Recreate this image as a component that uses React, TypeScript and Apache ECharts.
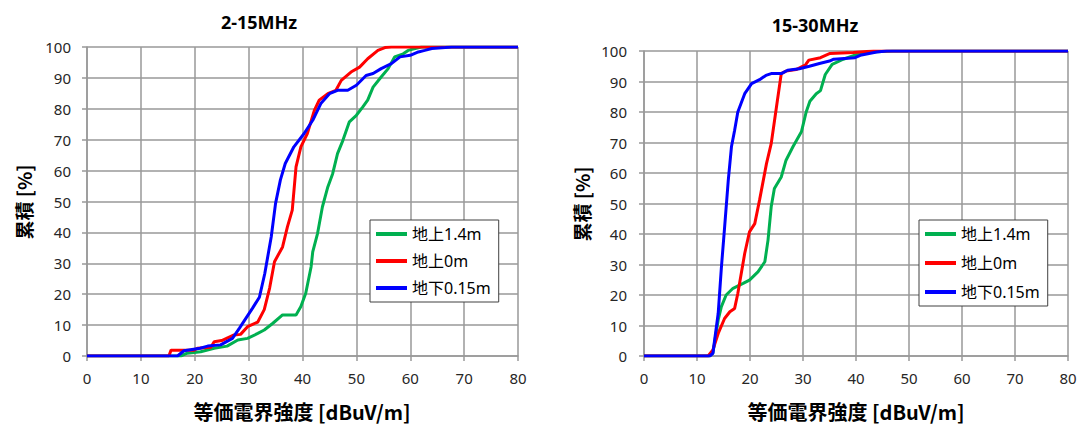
import React, { useEffect, useRef } from "react";
import * as echarts from "echarts";

const seriesNames = ["地上1.4m", "地上0m", "地下0.15m"];
const seriesColors = ["#00b050", "#ff0000", "#0000ff"];
const chartTitles = ["2-15MHz", "15-30MHz"];
const xAxisTitle = "等価電界強度 [dBuV/m]";
const yAxisTitle = "累積 [%]";

// 2-15MHz
const lowGreen = [
  [0, 0], [17.4, 0], [18.6, 0.9], [21.1, 1.4], [23.6, 2.5], [26, 3.2], [28, 5.2], [29.8, 5.7],
  [31.7, 7.3], [32.9, 8.4], [34.5, 10.6], [36.3, 13.3], [38.8, 13.3], [39.7, 16], [40.6, 20.3],
  [41.6, 28.9], [41.9, 33.7], [42.8, 39.7], [43.7, 48.3], [44.7, 54.7], [45.6, 59], [46.5, 65.5],
  [47.5, 69.8], [48.7, 75.8], [50, 77.9], [51.2, 80.6], [52.1, 82.8], [53.1, 87], [54.6, 90.3],
  [55.9, 93], [57.1, 96.8], [58.7, 97.8], [59.6, 98.9], [60.9, 99.5], [62.1, 100], [80, 100],
];
const lowRed = [
  [0, 0], [15.2, 0], [15.6, 1.9], [19.9, 1.9], [20.5, 2.5], [23, 2.8], [23.6, 4.6], [25, 5],
  [27.3, 6.8], [28.5, 7], [29.8, 9.5], [31.7, 11], [32.9, 15], [33.9, 22], [34.8, 30.5],
  [36.3, 35.3], [37.2, 41.8], [38.1, 47.2], [38.8, 61.2], [39.7, 67.7], [40.9, 72], [42.2, 79.5],
  [43.1, 82.8], [44.7, 84.9], [46.2, 86], [47.2, 89.2], [49, 91.9], [50.6, 93.5], [52.1, 96.2],
  [54, 98.9], [55.3, 99.8], [56.5, 100], [80, 100],
];
const lowBlue = [
  [0, 0], [16.8, 0], [18, 1.7], [21, 2.5], [22.4, 3.2], [24.8, 3.6], [27, 5.7], [28.3, 9],
  [30.7, 15.4], [32, 19], [33, 26.7], [34.2, 38.6], [35, 49.4], [35.9, 57], [36.8, 62.3],
  [38.4, 67.7], [40.3, 72], [41.9, 76.3], [43.4, 81.7], [45, 84.9], [46.5, 86], [48.4, 86],
  [50, 87.6], [51.8, 90.8], [53.1, 91.4], [54.6, 93], [56.5, 94.6], [58.1, 96.8], [60, 97.3],
  [61.5, 98.4], [62.7, 98.9], [64, 99.5], [66.5, 99.8], [67.7, 100], [80, 100],
];

// 15-30MHz
const highGreen = [
  [0, 0], [12.4, 0], [13, 1], [14, 11.8], [14.6, 16.2], [15.5, 20], [16.8, 22.2], [18.7, 23.8],
  [19.9, 24.9], [21.5, 27.6], [22.8, 30.9], [23.4, 38], [24, 48.9], [24.6, 54.9], [25.9, 58.7],
  [26.8, 64.2], [28.1, 68.6], [29.7, 73.5], [30.6, 80], [31.3, 83.5], [32.5, 86], [33.3, 87],
  [34.2, 92.3], [35.5, 95.6], [37.6, 97.3], [40.2, 98.9], [42.7, 99.7], [47, 100], [80, 100],
];
const highRed = [
  [0, 0], [12.1, 0], [13, 2], [14, 7.4], [15.2, 12.3], [16.2, 14.5], [17.1, 15.6], [17.7, 20.5],
  [19, 33.6], [19.9, 40.7], [20.9, 43.4], [21.8, 51.1], [23.1, 63], [24, 69.6], [25, 81.7],
  [25.9, 92.6], [26.8, 93.4], [28.7, 93.9], [30.5, 95.5], [31.1, 97], [33.3, 97.8], [35.1, 99.2],
  [39.5, 99.5], [43.3, 100], [80, 100],
];
const highBlue = [
  [0, 0], [12.4, 0], [13, 0.9], [14, 14], [14.6, 29], [15.2, 42], [15.9, 57.6], [16.5, 68.6],
  [17.1, 74], [17.7, 80], [19, 86], [20.3, 89.3], [21.8, 90.6], [23, 92], [24, 92.6], [25.9, 92.6],
  [27.1, 93.7], [29.3, 94.2], [31.2, 95], [33.1, 95.9], [35, 96.7], [35.8, 97.3], [39.8, 97.8],
  [40.8, 98.6], [43.9, 99.7], [45.8, 100], [80, 100],
];

const FONT = "'Noto Sans', 'Noto Sans CJK JP', sans-serif";
const CJK_BOLD = "bold 20px 'Noto Sans CJK JP', 'Noto Sans', sans-serif";
const TITLE_FONT = "bold 18px 'Noto Sans', sans-serif";
const YNAME_FONT = "bold 19px 'Noto Sans CJK JP', 'Noto Sans', sans-serif";

export default function App() {
  const ref = useRef<HTMLDivElement>(null);

  useEffect(() => {
    if (!ref.current) return;
    const chart = echarts.init(ref.current, undefined, { renderer: "svg" });

    const gridLine = { lineStyle: { color: "#999999", width: 1.5 } };
    const axisLine = { show: true, lineStyle: { color: "#999999", width: 1.5 } };
    const axisTick = { show: true, length: 5, lineStyle: { color: "#999999", width: 1.5 } };

    const xAxis = [0, 1].map((i) => ({
      type: "value",
      gridIndex: i,
      min: 0,
      max: 80,
      interval: 10,
      splitLine: { show: true, ...gridLine },
      axisLine,
      axisTick,
      axisLabel: { color: "#262626", fontSize: 15, fontFamily: FONT, margin: 14 },
    }));
    const yAxis = [0, 1].map((i) => ({
      type: "value",
      gridIndex: i,
      min: 0,
      max: 100,
      interval: 10,
      splitLine: { show: true, ...gridLine },
      axisLine,
      axisTick,
      axisLabel: { color: "#262626", fontSize: 15, fontFamily: FONT, margin: i === 0 ? 16 : 17 },
    }));

    const sets = [
      [lowGreen, lowRed, lowBlue],
      [highGreen, highRed, highBlue],
    ];
    const series: any[] = [];
    sets.forEach((group, gi) => {
      group.forEach((data, si) => {
        series.push({
          type: "line",
          name: seriesNames[si],
          xAxisIndex: gi,
          yAxisIndex: gi,
          data,
          showSymbol: false,
          symbol: "none",
          lineStyle: { color: seriesColors[si], width: 3 },
          itemStyle: { color: seriesColors[si] },
        });
      });
    });

    const legendBase = {
      orient: "vertical",
      data: seriesNames,
      icon: "rect",
      itemWidth: 31,
      itemHeight: 4,
      itemGap: 11,
      backgroundColor: "#fff",
      borderColor: "#404040",
      borderWidth: 1,
      borderRadius: 0,
      textStyle: { fontSize: 16, color: "#000", fontFamily: FONT },
      selectedMode: false,
    };

    const centered = (text: string, x: number, y: number, font: string, rotation = 0) => ({
      type: "text",
      x,
      y,
      rotation,
      style: { text, font, fill: "#000", textAlign: "center", textVerticalAlign: "middle" },
    });

    chart.setOption({
      animation: false,
      backgroundColor: "#fff",
      grid: [
        { left: 87, top: 47, width: 431, height: 309 },
        { left: 644, top: 51, width: 424, height: 305 },
      ],
      xAxis,
      yAxis,
      series,
      legend: [
        { ...legendBase, left: 370, top: 220, padding: [6, 8, 6, 6] },
        { ...legendBase, left: 919, top: 220, itemGap: 13, padding: [6, 8, 6, 6] },
      ],
      graphic: [
        centered(chartTitles[0], 259, 22, TITLE_FONT),
        centered(chartTitles[1], 815, 25, TITLE_FONT),
        centered(xAxisTitle, 302, 411, CJK_BOLD),
        centered(xAxisTitle, 856, 411, CJK_BOLD),
        centered(yAxisTitle, 23, 202, YNAME_FONT, Math.PI / 2),
        centered(yAxisTitle, 581, 204, YNAME_FONT, Math.PI / 2),
      ],
    });

    return () => chart.dispose();
  }, []);

  return (
    <div
      ref={ref}
      style={{ position: "fixed", left: 0, top: 0, width: 1080, height: 426, background: "#fff" }}
    />
  );
}
